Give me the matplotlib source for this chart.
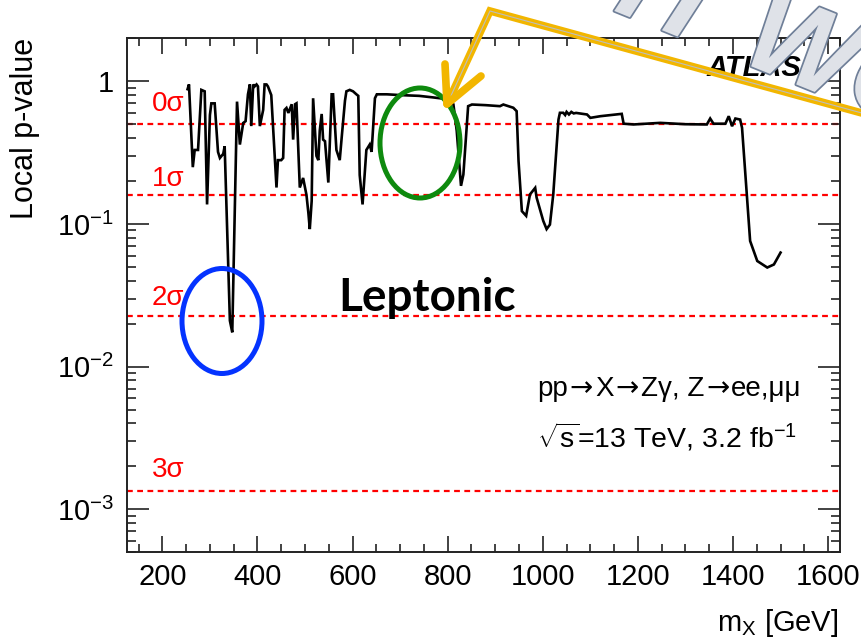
import math
import matplotlib
matplotlib.use("Agg")
import matplotlib.pyplot as plt
from matplotlib.ticker import MultipleLocator, LogLocator, FuncFormatter, NullFormatter
from matplotlib.transforms import Affine2D
from matplotlib.patches import Ellipse
from matplotlib.lines import Line2D
import matplotlib.patheffects as pe

plt.rcParams['font.family'] = ['Liberation Sans', 'DejaVu Sans']
plt.rcParams['mathtext.fontset'] = 'custom'
plt.rcParams['mathtext.rm'] = 'Liberation Sans'
plt.rcParams['mathtext.it'] = 'Liberation Sans:italic'
plt.rcParams['mathtext.bf'] = 'Liberation Sans:bold'

# Local p-value scan versus resonance mass
mass = [253, 256, 264, 268, 275, 282, 289, 294, 300, 303, 310, 317, 321, 328, 331,
        342, 347, 357, 363, 370, 375, 380, 384, 387, 391, 394, 398, 401, 405, 412,
        415, 419, 422, 429, 436, 440, 443, 450, 454, 457, 461, 465, 472, 475, 479,
        482, 489, 496, 503, 507, 510, 514, 517, 524, 528, 531, 535, 538, 542, 549,
        556, 559, 566, 573, 577, 584, 587, 594, 601, 608, 612, 615, 621, 629, 636,
        640, 647, 651, 672, 700, 740, 770, 798, 812, 819, 828, 833, 843, 851, 880,
        905, 910, 917, 938, 945, 949, 956, 965, 973, 984, 987, 1001, 1008, 1015,
        1022, 1033, 1036, 1043, 1047, 1050, 1055, 1060, 1065, 1070, 1093, 1100,
        1121, 1166, 1170, 1191, 1220, 1247, 1300, 1345, 1352, 1359, 1384, 1391,
        1398, 1405, 1415, 1419, 1429, 1436, 1451, 1472, 1486, 1500]
pvalue = [0.88, 0.95, 0.25, 0.33, 0.33, 0.87, 0.85, 0.137, 0.58, 0.70, 0.70, 0.32, 0.29, 0.31, 0.35,
          0.021, 0.0174, 0.72, 0.36, 0.51, 0.525, 0.81, 0.95, 0.485, 0.95, 0.92, 0.95, 0.92, 0.485, 0.63,
          0.95, 0.95, 0.92, 0.80, 0.31, 0.18, 0.28, 0.28, 0.29, 0.63, 0.65, 0.60, 0.69, 0.39, 0.69,
          0.70, 0.18, 0.21, 0.16, 0.12, 0.092, 0.145, 0.76, 0.30, 0.28, 0.45, 0.59, 0.39, 0.38, 0.195,
          0.81, 0.81, 0.33, 0.28, 0.40, 0.73, 0.85, 0.87, 0.85, 0.81, 0.79, 0.22, 0.137, 0.33, 0.36,
          0.32, 0.76, 0.81, 0.81, 0.80, 0.79, 0.77, 0.75, 0.69, 0.45, 0.185, 0.222, 0.669, 0.687, 0.68,
          0.67, 0.669, 0.687, 0.652, 0.617, 0.276, 0.123, 0.114, 0.161, 0.179, 0.153, 0.105, 0.092, 0.099,
          0.161, 0.539, 0.601, 0.601, 0.58, 0.61, 0.585, 0.61, 0.595, 0.60, 0.585, 0.554,
          0.569, 0.591, 0.504, 0.498, 0.505, 0.511, 0.50, 0.498, 0.548, 0.504, 0.504, 0.569,
          0.484, 0.548, 0.539, 0.472, 0.161, 0.076, 0.055, 0.0495, 0.052, 0.063]

# Significance reference lines
sigma_labels = ['0\u03c3', '1\u03c3', '2\u03c3', '3\u03c3']
sigma_pvalues = [0.5, 0.158655, 0.0227501, 0.0013499]

W, H = 862, 642
fig = plt.figure(figsize=(W / 100, H / 100), dpi=100)
ax = fig.add_axes([126.7 / W, 1 - 552.3 / H, (840 - 126.7) / W, (552.3 - 38.3) / H])
pix = Affine2D().scale(1 / W, -1 / H).translate(0, 1) + fig.transFigure

ax.set_xlim(125, 1625)
ax.set_yscale('log')
ax.set_ylim(5e-4, 2)

for p in sigma_pvalues:
    ax.axhline(p, color='#ff0000', lw=1.6, ls=(0, (2.6, 2.0)), zorder=1)

ax.plot(mass, pvalue, color='black', lw=1.9, zorder=3, solid_joinstyle='miter')

ax.xaxis.set_major_locator(MultipleLocator(200))
ax.xaxis.set_minor_locator(MultipleLocator(50))
ax.yaxis.set_major_locator(LogLocator(base=10, numticks=10))
ax.yaxis.set_minor_locator(LogLocator(base=10, subs=range(2, 10), numticks=20))
ax.yaxis.set_minor_formatter(NullFormatter())


def fmt_log(v, _):
    if abs(v - 1) < 1e-9:
        return '1'
    return r'$10^{%d}$' % round(math.log10(v))


ax.yaxis.set_major_formatter(FuncFormatter(fmt_log))
ax.tick_params(axis='both', which='both', direction='in', top=True, right=True,
               width=1.2, labelsize=21, color='#222222')
ax.tick_params(axis='x', which='major', length=11.5, pad=8)
ax.tick_params(axis='x', which='minor', length=5.8)
ax.tick_params(axis='y', which='major', length=15.8, pad=9)
ax.tick_params(axis='y', which='minor', length=6.5)
for s in ax.spines.values():
    s.set_linewidth(1.4)
    s.set_color('#222222')

fig.text(25, 38, 'Local p-value', transform=pix, rotation=90, ha='center', va='top', fontsize=22)
fig.text(838, 623, r'm$_{\mathrm{X}}$ [GeV]', transform=pix, ha='right', va='center', fontsize=21)

sigma_label_y = [104, 179, 298, 470]
for lab, yy in zip(sigma_labels, sigma_label_y):
    fig.text(152, yy, lab, transform=pix, ha='left', va='center', fontsize=20, color='#ff0000')

# Process label, written piece by piece so the arrows use a wider glyph
renderer = fig.canvas.get_renderer()
process_parts = [('pp', None), ('\u2192', 'DejaVu Sans'), ('X', None), ('\u2192', 'DejaVu Sans'),
                 ('Z\u03b3, Z', None), ('\u2192', 'DejaVu Sans'), ('ee,\u03bc\u03bc', None)]
x_cursor = 537.0
for part, fam in process_parts:
    kw = {'family': [fam]} if fam else {}
    if fam:
        x_cursor += 2
    t = fig.text(x_cursor, 396, part, transform=pix, ha='left', va='baseline', fontsize=20, **kw)
    x_cursor += t.get_window_extent(renderer).width
    if fam:
        x_cursor += 2

fig.text(537, 437, r'$\sqrt{\mathrm{s}}$=13 TeV, 3.2 fb$^{-1}$', transform=pix, ha='left',
         va='center', fontsize=20.5)
fig.text(707, 68, 'ATLAS', transform=pix, ha='left', va='center', fontsize=21,
         fontweight='bold', fontstyle='italic')
fig.text(427, 298, 'Leptonic', transform=pix, ha='center', va='center', fontsize=33,
         fontweight='bold', family=['Lato', 'DejaVu Sans'])

# Highlight rings
fig.add_artist(Ellipse((222, 321), 80, 105, transform=pix, fill=False, ec='#0433ff', lw=3.6))
fig.add_artist(Ellipse((420, 143), 80, 110, transform=pix, fill=False, ec='#0e8a0e', lw=3.6))

# Big slanted lettering across the top right corner
fig.text(780, 45, 'IT WO', transform=pix, ha='center', va='center', fontsize=84,
         rotation=-22, color='#dfe2e8', fontweight='bold', fontstyle='italic',
         path_effects=[pe.withStroke(linewidth=2.5, foreground='#6f7f98')], zorder=5)

# Pointer arrow
shaft_x = [880, 490, 449]
shaft_y = [118, 11, 100]
for lw, col in [(5.5, '#f2b600'), (0.8, '#bdbdbd')]:
    fig.add_artist(Line2D(shaft_x, shaft_y, transform=pix, color=col, lw=lw,
                          solid_joinstyle='miter', zorder=6))
for ex, ey in [(445, 64), (481, 76)]:
    fig.add_artist(Line2D([447, ex], [104, ey], transform=pix, color='#f2b600', lw=5.5,
                          solid_capstyle='round', zorder=6))

fig.savefig('out.png', dpi=100)
